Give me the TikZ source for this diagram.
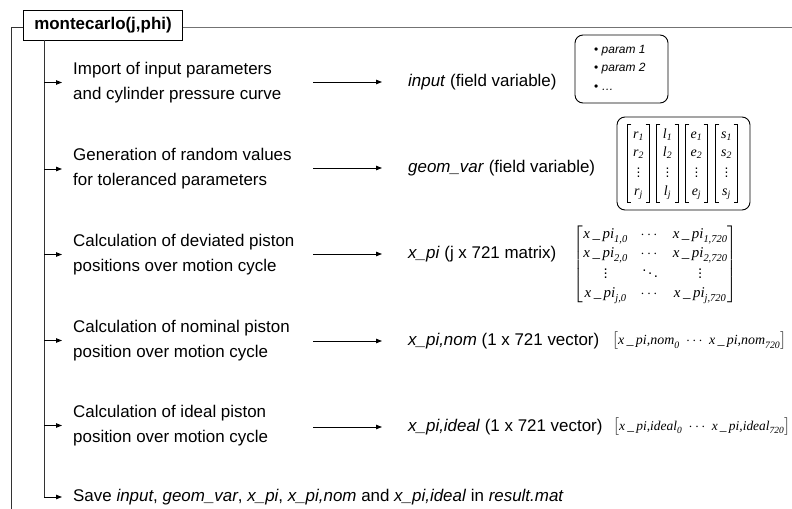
\documentclass[tikz,border=0pt]{standalone}
\usepackage{amsmath}
\usepackage{fontspec}
\setmainfont{Liberation Sans}
\newfontfamily\srf{Liberation Serif}
\usetikzlibrary{arrows.meta}
\newcommand\tm[1]{\text{\srf\itshape #1}}
\newcommand\xpi{\tm{x\,\_\,pi}}
\newcommand\gcol[1]{\begin{tabular}{@{}c@{}}$\tm{#1}_{\tm{1}}$\\ $\tm{#1}_{\tm{2}}$\\ $\vdots$\\ $\tm{#1}_{\tm{j}}$\end{tabular}}
\tikzset{
  every node/.style={inner sep=0pt, font=\fontsize{17}{25}\selectfont},
  steptext/.style={anchor=west, align=left},
  restext/.style={anchor=west},
  arr/.style={-{Triangle[length=6bp,width=4.5bp]}, line width=0.9bp},
  frame/.style={line width=0.9bp, black!80},
  titlebox/.style={draw, line width=0.9bp, inner xsep=10.5bp, minimum height=30bp,
    font=\bfseries\fontsize{17}{20}\selectfont},
  roundbox/.style={draw, rounded corners=8bp, line width=0.9bp},
  mathbox/.style={font=\fontsize{14}{16}\selectfont},
  gvec/.style={font=\fontsize{14}{18.3}\selectfont, minimum width=21bp, minimum height=77bp},
  brk/.style={line width=0.8bp},
}
\begin{document}
\begin{tikzpicture}[x=1bp,y=-1bp]
\useasboundingbox (0,0) rectangle (792,509);
% title and frame
\node[titlebox] (title) at (103,25) {montecarlo(j,phi)};
\coordinate (fl) at (11,27);
\coordinate (fb) at (11,509);
\coordinate (fr) at (792,27);
\draw[frame] (title.west |- fl) -- (fl) -- (fb);
\draw[frame, black!55] (title.east |- fr) -- (fr);
% spine
\coordinate (sp) at (44,40);
\coordinate (spb) at (44,497);
\draw[frame] (title.south -| sp) -- (spb);
% steps
\node[steptext] (s1) at (73,82.5) {Import of input parameters\\and cylinder pressure curve};
\node[steptext] (s2) at (73,169) {Generation of random values\\for toleranced parameters};
\node[steptext] (s3) at (73,254.5) {Calculation of deviated piston\\positions over motion cycle};
\node[steptext] (s4) at (73,340.5) {Calculation of nominal piston\\position over motion cycle};
\node[steptext] (s5) at (73,425.5) {Calculation of ideal piston\\position over motion cycle};
\node[steptext] (s6) at (73,497) {Save \textit{input}, \textit{geom\_var}, \textit{x\_pi}, \textit{x\_pi,nom} and \textit{x\_pi,ideal} in \textit{result.mat}};
\foreach \s in {s1,s2,s3,s4,s5}
  \draw[arr, shorten >=11bp] (\s.west -| sp) -- (\s.west);
\draw[arr, shorten >=11bp] (spb) -- (s6.west);
% results
\node[restext] (r1) at (408,82) {\textit{input} (field variable)};
\node[restext] (r2) at (408,168) {\textit{geom\_var} (field variable)};
\node[restext] (r3) at (408,254) {\textit{x\_pi} (j x 721 matrix)};
\node[restext] (r4) at (408,341) {\textit{x\_pi,nom} (1 x 721 vector)};
\node[restext] (r5) at (408,427) {\textit{x\_pi,ideal} (1 x 721 vector)};
\coordinate (a1) at (313,82);
\coordinate (a2) at (313,168);
\coordinate (a3) at (313,254);
\coordinate (a4) at (313,341);
\coordinate (a5) at (313,427);
\foreach \i in {1,...,5}
  \draw[arr] (a\i) -- ([xshift=-26bp]r\i.west);
% param box
\node[roundbox, minimum width=93bp, minimum height=68bp] (b1) at (621.5,69) {};
\node[anchor=west, align=left, font=\fontsize{12}{18.5}\selectfont] (b1t) at (594,67.5)
  {\textbullet\ \textit{param 1}\\ \textbullet\ \textit{param 2}\\ \textbullet\ \textit{\dots}};
% geom_var box
\node[roundbox, minimum width=133bp, minimum height=93bp] (b2) at (683.5,163.5) {};
\node[gvec] (g1) at (638.5,163.5) {\gcol{r}};
\node[gvec] (g2) at (667.5,163.5) {\gcol{l}};
\node[gvec] (g3) at (696.5,163.5) {\gcol{e}};
\node[gvec] (g4) at (726.5,163.5) {\gcol{s}};
\foreach \g in {g1,g2,g3,g4}{
  \draw[brk] ([xshift=3.5bp]\g.north west) -| (\g.south west) -- ++(3.5bp,0);
  \draw[brk] ([xshift=-3.5bp]\g.north east) -| (\g.south east) -- ++(-3.5bp,0);
}
% x_pi matrix
\node[font=\fontsize{15}{19}\selectfont] (b3) at (655.5,264.5)
  {\setlength\arraycolsep{6.5pt}$\begin{bmatrix}
   \xpi_{\tm{1,0}} & \cdots & \xpi_{\tm{1,720}}\\
   \xpi_{\tm{2,0}} & \cdots & \xpi_{\tm{2,720}}\\
   \vdots & \ddots & \vdots\\
   \xpi_{\tm{j,0}} & \cdots & \xpi_{\tm{j,720}}
  \end{bmatrix}$};
% vectors
\node[mathbox, anchor=west] (b4) at (612,341)
  {$\bigl[\tm{x\,\_\,pi,nom}_{\tm{0}}\ \cdots\ \tm{x\,\_\,pi,nom}_{\tm{720}}\bigr]$};
\node[font=\fontsize{13.5}{16}\selectfont, anchor=west] (b5) at (613,427)
  {$\bigl[\tm{x\,\_\,pi,ideal}_{\tm{0}}\;\cdots\;\tm{x\,\_\,pi,ideal}_{\tm{720}}\bigr]$};
\end{tikzpicture}
\end{document}
